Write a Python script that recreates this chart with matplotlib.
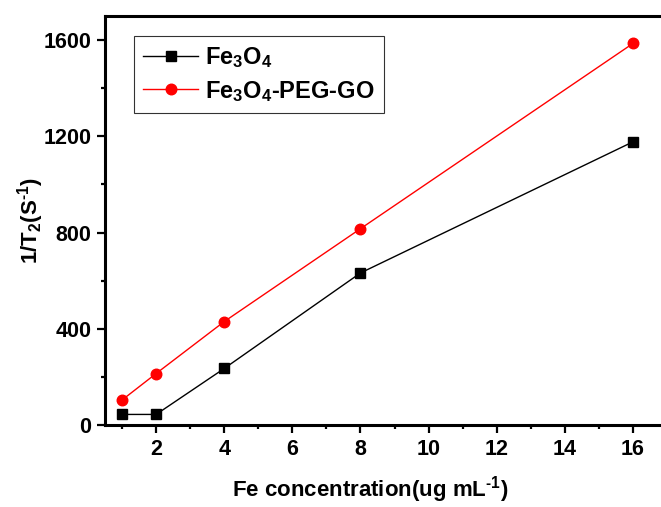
"""T2 relaxation rate vs Fe concentration for Fe3O4 and Fe3O4-PEG-GO."""

import matplotlib

matplotlib.use("Agg")
import matplotlib.pyplot as plt
from matplotlib.ticker import MultipleLocator

plt.rcParams["font.family"] = ["Liberation Sans", "DejaVu Sans"]
plt.rcParams["font.weight"] = "bold"
plt.rcParams["mathtext.fontset"] = "custom"
plt.rcParams["mathtext.rm"] = "Liberation Sans:bold"
plt.rcParams["mathtext.bf"] = "Liberation Sans:bold"
plt.rcParams["mathtext.it"] = "Liberation Sans:bold"

conc = [1, 2, 4, 8, 16]
r2_fe3o4 = [44, 44, 235, 632, 1177]
r2_peg_go = [104, 214, 430, 816, 1586]
x_ticks = [2, 4, 6, 8, 10, 12, 14, 16]
y_ticks = [0, 400, 800, 1200, 1600]

fig = plt.figure(figsize=(6.61, 5.07), dpi=100)
ax = fig.add_axes([0.1589, 0.1617, 0.8502, 0.8067])

ax.plot(conc, r2_fe3o4, color="black", lw=1.0, marker="s", ms=6.8,
        label=r"Fe$_\mathbf{3}$O$_\mathbf{4}$")
ax.plot(conc, r2_peg_go, color="red", lw=1.0, marker="o", ms=7.6,
        label=r"Fe$_\mathbf{3}$O$_\mathbf{4}$-PEG-GO")

ax.set_xlim(0.5, 17)
ax.set_ylim(0, 1700)
ax.set_xticks(x_ticks)
ax.set_yticks(y_ticks)
ax.xaxis.set_minor_locator(MultipleLocator(1))
ax.yaxis.set_minor_locator(MultipleLocator(200))
ax.tick_params(which="major", direction="out", length=6, width=1.6, labelsize=15.5, pad=4)
ax.tick_params(which="minor", direction="out", length=3, width=1.6)
for s in ax.spines.values():
    s.set_linewidth(2.2)

ax.set_xlabel(r"Fe concentration(ug mL$^{\text{-}1}$)", fontsize=16, fontweight="bold")
ax.set_ylabel(r"1/T$_\mathbf{2}$(S$^{\text{-}1}$)", fontsize=16, fontweight="bold")
ax.xaxis.set_label_coords(0.4715, -0.12)
ax.yaxis.set_label_coords(-0.105, 0.5)

leg = ax.legend(loc="upper left", bbox_to_anchor=(0.0516, 0.951), borderaxespad=0,
                fontsize=17, frameon=True, fancybox=False, handlelength=2.3,
                handletextpad=0.3, labelspacing=0.35, borderpad=0.4)
leg.get_frame().set_edgecolor("black")
leg.get_frame().set_linewidth(0.8)

fig.savefig("out.png", dpi=100)
